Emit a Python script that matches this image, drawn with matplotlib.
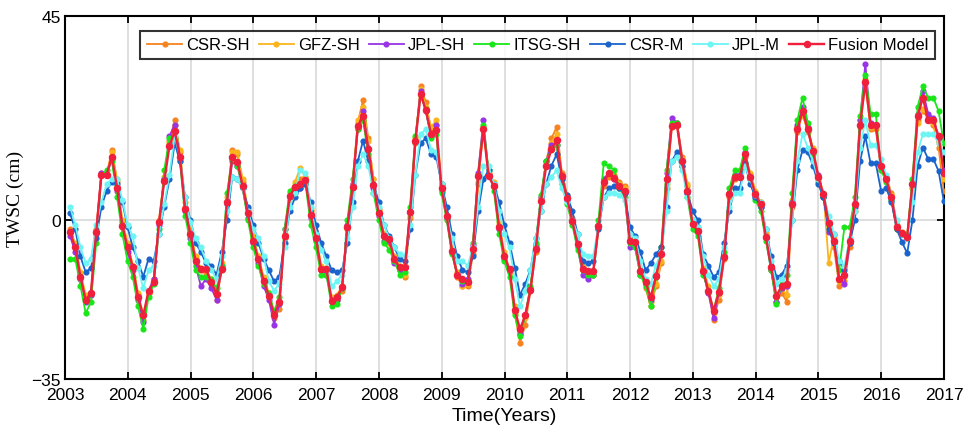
import numpy as np
import pandas as pd
import matplotlib
matplotlib.use("Agg")
import matplotlib.pyplot as plt
from matplotlib import font_manager

# monthly samples, Feb 2003 .. Jan 2017
years = 2003.08 + np.arange(168) / 12.0

csr_sh = [
    -2, -5.5, -12, -17, -16.5, -2, 10.5, 10, 15.5, 8.5, -0.5,
    -5.5, -10, -16.5, -22, -16, -13, -0.5, 9, 17.5, 22, 15, 3,
    -2.5, -8.5, -11, -12, -13.5, -17.5, -11, 3.5, 15.5, 14.5, 8.5, 2,
    -4, -8, -13, -17, -21.5, -19.5, -4, 4.5, 7.5, 9, 9.5, 2,
    -3.5, -11, -11, -18, -17.5, -15.5, -2, 7, 21.5, 26.5, 18, 9,
    2.5, -3, -5, -9, -11, -12.5, 0.5, 17, 29.5, 26, 20, 21,
    7.5, 0.5, -7, -12.5, -14.5, -14.5, -7.5, 8, 20.5, 10.5, 8, -1,
    -8, -11.5, -20.5, -27, -23, -15.5, -7, 4.5, 13, 18, 20.5, 10.5,
    5.5, 0.5, -5, -11, -12.5, -12, -2, 7.5, 9.5, 10, 8.5, 7.5,
    -4, -5.5, -11.5, -15, -19, -14.5, -9.5, 7, 21, 21.5, 14, 7.5,
    -0.5, -2, -11, -15.5, -22, -17.5, -8.5, 5, 9, 9.5, 14, 10,
    6, 4, -3, -11, -18, -16, -18, 3, 19.5, 23.5, 19.5, 15.5,
    9, 5, -1, -6, -14.5, -13.5, -6, 2, 20.5, 30.5, 20, 20,
    11, 9.5, 6, -1, -3, -4, 7, 22, 24, 22.5, 21, 16,
    6.5]

gfz_sh = [
    -2.5, -5, -11.5, -16.5, -16, -2.5, 10, 10, 15, 9, 0,
    -5, -10, -16, -21, -16, -13, 0, 9.5, 17, 21, 15.5, 4,
    -2, -8, -10.5, -11, -13, -16.5, -9.5, 5, 15, 15, 9, 2.5,
    -3.5, -8, -12.5, -16, -20.5, -18.5, -3, 6, 8.5, 11.5, 9.5, 2.5,
    -3, -10, -10.5, -17, -16.5, -14.5, -1, 8, 22, 25, 17.5, 9,
    2, -3, -4.5, -8, -10, -12, 1, 18, 29, 25, 20.5, 22,
    8, 1, -6, -11.5, -14.5, -14, -6.5, 8.5, 20, 10, 8.5, -0.5,
    -7, -11, -19, -25, -21.5, -15, -6, 5, 12.5, 17, 19, 10,
    5, 0, -5, -10, -11.5, -11.5, -2, 9, 10.5, 10, 8, 7,
    -3.5, -5, -11, -14, -18, -14, -9, 8, 20.5, 21, 13.5, 8,
    0, -1.5, -10.5, -14.5, -20.5, -16.5, -7.5, 6, 10, 10, 14.5, 10.5,
    6.5, 4, -2.5, -10, -17, -15, -16.5, 4.5, 20.5, 23, 20, 16,
    10, 6, -9.5, -3.5, -13.5, -12.5, -5, 3, 22, 31, 20.5, 21,
    12, 9, 5.5, -2, -2.5, -3, 8, 21.5, 24.5, 23, 21.5, 17,
    9]

jpl_sh = [
    -3.5, -7, -13, -18, -16.5, -3, 10.5, 10, 13.5, 6.5, -1,
    -7, -11, -17.5, -22.5, -15.5, -13, -1, 9, 18.5, 21, 14, 2,
    -4, -10, -14.5, -13, -15, -17.5, -10, 3.5, 13, 12, 7, 0.5,
    -5, -9.5, -14.5, -17.5, -23, -18.5, -2, 5, 6, 7, 8.5, 0.5,
    -4.5, -11, -12, -17.5, -17.5, -15, -1, 8, 20, 24, 16, 7,
    1, -4.5, -4.5, -9.5, -11, -10.5, 2, 17.5, 28.5, 24, 18.5, 21,
    6.5, 0.5, -7, -12, -14, -13, -5.5, 10.5, 22, 10, 7.5, -2,
    -8.5, -11, -20, -25, -21, -15, -5.5, 5, 13, 16.5, 16.5, 9,
    4.5, -0.5, -6, -12, -13, -12, -1, 9, 10.5, 9, 7, 6,
    -6, -6, -12, -14, -17.5, -12, -7, 10.5, 22.5, 21.5, 13, 6,
    -1, -2.5, -11.5, -16, -21.5, -16, -8, 6, 10, 10, 15, 9,
    5, 3, -4, -11, -18, -15, -14.5, 4, 21, 25, 20.5, 15,
    10, 5, -2.5, -3, -13, -14, -5, 3, 22, 34.5, 21.5, 21,
    12, 9.5, 4.5, -1.5, -3, -4, 8, 23.5, 28.5, 23.5, 22.5, 18,
    11]

itsg_sh = [
    -8.5, -8.5, -14.5, -20.5, -18, -5, 10, 11, 13, 5, -3,
    -9, -12.5, -19, -24, -17, -14, -2, 11, 18, 18, 13, 1,
    -5, -11, -12.5, -12.5, -13, -15, -10, 6, 13.5, 12, 7, 0,
    -6, -10, -14, -16, -20, -17, -2, 6.5, 7.5, 7.5, 8, -1,
    -6, -12, -12, -19, -18.5, -15, 0, 9, 20, 22, 14.5, 6,
    0, -5, -6.5, -9, -12, -11.5, 3, 18.5, 27.5, 24.5, 18, 19,
    6, 0, -7.5, -12, -13.5, -13.5, -5, 10, 21, 11, 6.5, -3,
    -9, -12.5, -21, -25.5, -21, -14.5, -5, 5.5, 13, 15.5, 16.5, 8,
    3.5, -1, -6.5, -11, -12, -12, 0, 12.5, 12, 11, 7, 5,
    -5, -6, -12, -14.5, -19, -12.5, -6, 11, 21.5, 21.5, 12, 5,
    -2, -3.5, -12, -15.5, -20, -15, -7, 7, 11, 11, 16, 9,
    4.5, 2, -4.5, -11, -18.5, -14, -12, 6, 22, 27, 21.5, 14.5,
    8.5, 5, -1, -5, -11, -1.5, -1.5, 5, 23, 32, 23.5, 23.5,
    11, 8.5, 4.5, -2, -3, -3.5, 9, 25, 29.5, 27, 27, 24,
    17]

csr_m = [
    1.5, -2, -8, -11.5, -10.5, -4, 3, 6.5, 8.5, 8, 4,
    -1.5, -6, -9, -12.5, -8.5, -9, -3, 3, 9, 17, 13, 5,
    0, -5, -7, -9.5, -10, -12, -7, 0, 9.5, 9, 7, 3,
    -1, -5, -8.5, -11, -13.5, -12.5, -5, 2, 5, 7, 8, 4,
    -1, -5, -8, -11, -11.5, -11, -5, 4, 13, 17.5, 13, 8,
    4, -1, -3.5, -6, -8.5, -9, -2, 10, 17, 18, 14.5, 14,
    8, 3, -3, -8, -11, -11.5, -8, 2, 9, 11, 8, 4,
    -1, -5, -10.5, -16.5, -14, -11, -4, 2, 8, 12, 14.5, 9,
    5.5, 2, -3, -9, -9.5, -9, -2, 5, 7, 7.5, 7, 6,
    -1.5, -3.5, -7, -11, -9.5, -7.5, -6, 3, 13, 15, 12, 6,
    2, 0, -7.5, -10, -12.5, -11.5, -5, 2, 7, 7, 12.5, 8,
    5, 3, -2, -8, -12.5, -12, -10, 0, 11, 15.5, 15, 12,
    8, 5, -2, -5, -9, -11, -5, 0, 13, 18.5, 12.5, 12.5,
    6.5, 7, 4, -2, -4.8, -7.3, 0, 12, 16, 13.5, 13.5, 10.8,
    4.2]

jpl_m = [
    3, -1, -6, -9.5, -8.5, -1, 4, 8, 9, 9, 4.5,
    -1, -3.5, -10.5, -15, -11, -10, -3, 3.5, 10, 18.5, 14, 5,
    -0.5, -4, -6, -9, -11, -13, -8, 2, 9.5, 9, 7, 2,
    -2, -4, -8, -13.5, -15.5, -14, -6, 3, 6, 11, 10.5, 3,
    -3, -6.5, -9, -14.5, -13.5, -12, -4, 3, 12, 14.5, 12, 6,
    3, -1, -4, -6, -7.5, -8, -1, 10, 19, 20, 15.5, 15,
    8, 1, -4, -9, -9, -10, -6, 3, 12, 12, 8, 2,
    -3, -6, -13, -19, -15.5, -11, -4, 2, 8, 9.5, 11, 7,
    4, 0, -3, -7.5, -8, -8, -1, 5, 6, 6, 5.5, 4.5,
    -3, -4, -9, -13, -14, -10, -7, 2, 13, 14, 11, 5,
    0, -1.5, -8, -12, -14.5, -13, -6, 3, 6, 6, 12, 9,
    5.5, 4, -2, -9, -14, -13, -11, 0, 13, 19, 16, 13,
    9, 6, 1, -3, -9, -10, -4, 2, 16, 22, 16.5, 16.5,
    13.5, 10, 5, 0, -3, -4, 4, 15, 19, 19, 19, 17,
    15]

fusion = [
    -2.7, -6, -12.5, -17.6, -16, -2.7, 10, 10, 14, 7, -1.3,
    -6, -10.4, -17, -21, -15.6, -13.7, -0.5, 8.6, 16.3, 19.6, 14, 2.4,
    -3, -9, -10.8, -10.8, -13.7, -16.3, -10.8, 4, 13.9, 12.8, 7.5, 1.5,
    -4.6, -8.6, -13.4, -16.7, -21, -18, -3.5, 5.3, 7.3, 8, 8.8, 1.1,
    -4, -10.8, -10.8, -17.8, -17, -14.8, -1.5, 7.3, 20.7, 23, 15.6, 7.7,
    1.5, -3.5, -4.2, -8.6, -10.4, -10.4, 1.8, 17.4, 27.8, 24.2, 19, 19.8,
    7, 0.9, -6.8, -12, -13, -13.7, -6.4, 9.7, 20, 9.7, 7.5, -1.5,
    -7.9, -10.8, -19.8, -24, -21, -15.4, -6.4, 4.2, 11.9, 15.6, 17.6, 9.7,
    4.8, -0.2, -5.3, -10.8, -11.2, -11.2, -1.3, 8.4, 10.4, 9.3, 7.5, 6.4,
    -4.6, -4.8, -11.2, -13.7, -17, -12.3, -7.5, 9, 20.7, 20.9, 13, 6.4,
    -0.9, -2.4, -11.2, -15.6, -20, -15.9, -8.2, 5.7, 9.5, 9.5, 14.5, 9.5,
    5.7, 3.5, -3.7, -10.4, -16.7, -14.5, -14, 3.5, 20, 24, 20, 15.2,
    9.5, 5.7, -0.7, -4.6, -13, -12, -4.6, 3.5, 21, 30.4, 21, 21,
    11.9, 9, 5, -1.5, -2.9, -3.7, 7.9, 23, 27, 22, 22, 18.5,
    10.5]

df = pd.DataFrame({
    'CSR-SH': csr_sh, 'GFZ-SH': gfz_sh, 'JPL-SH': jpl_sh, 'ITSG-SH': itsg_sh,
    'CSR-M': csr_m, 'JPL-M': jpl_m, 'Fusion Model': fusion,
}, index=years)

colores = {
    'CSR-SH': '#F7821E', 'GFZ-SH': '#FBB41C', 'JPL-SH': '#9933E6',
    'ITSG-SH': '#19E619', 'CSR-M': '#1A63CC', 'JPL-M': '#6CF5F5',
    'Fusion Model': '#F0203C',
}

names = {f.name for f in font_manager.fontManager.ttflist}
tick_font = 'Liberation Sans Narrow' if 'Liberation Sans Narrow' in names else 'Liberation Sans'
plt.rcParams['font.family'] = [tick_font, 'DejaVu Sans']

fig = plt.figure(figsize=(9.63, 4.35), dpi=100)
ax = fig.add_axes([0.0675, 0.1264, 0.9128, 0.8346])

for col in df.columns:
    big = col == 'Fusion Model'
    ax.plot(df.index, df[col], color=colores[col], marker='o',
            markersize=4.4 if big else 3.4, linewidth=1.7 if big else 1.3,
            label=col, zorder=4 if big else 3)

ax.set_xlim(2003, 2017)
ax.set_ylim(-35, 45)
ax.set_xticks(range(2003, 2018))
ax.set_yticks([-35, 0, 45])
ax.set_yticklabels(['\u221235', '0', '45'])
ax.grid(True, color='#D9D9D9', linewidth=1.2)
ax.set_axisbelow(True)
ax.tick_params(direction='in', length=5, width=1.3, top=True, right=True,
               labelsize=12.5)
ax.tick_params(axis='x', pad=6)
ax.tick_params(axis='y', pad=3)
for s in ax.spines.values():
    s.set_linewidth(1.5)

ax.set_xlabel('Time(Years)', fontsize=14, labelpad=3)
ax.set_ylabel('TWSC (cm)', fontsize=14, family=['Liberation Serif', 'DejaVu Serif'],
              labelpad=5)

leg = ax.legend(loc='upper right', ncol=7, fontsize=12, frameon=True,
                fancybox=False, edgecolor='black', handlelength=2.1,
                handletextpad=0.25, columnspacing=0.55, borderpad=0.4,
                bbox_to_anchor=(0.9995, 0.982))
leg.get_frame().set_linewidth(1.5)
leg.set_zorder(10)

fig.savefig('out.png', dpi=100)
